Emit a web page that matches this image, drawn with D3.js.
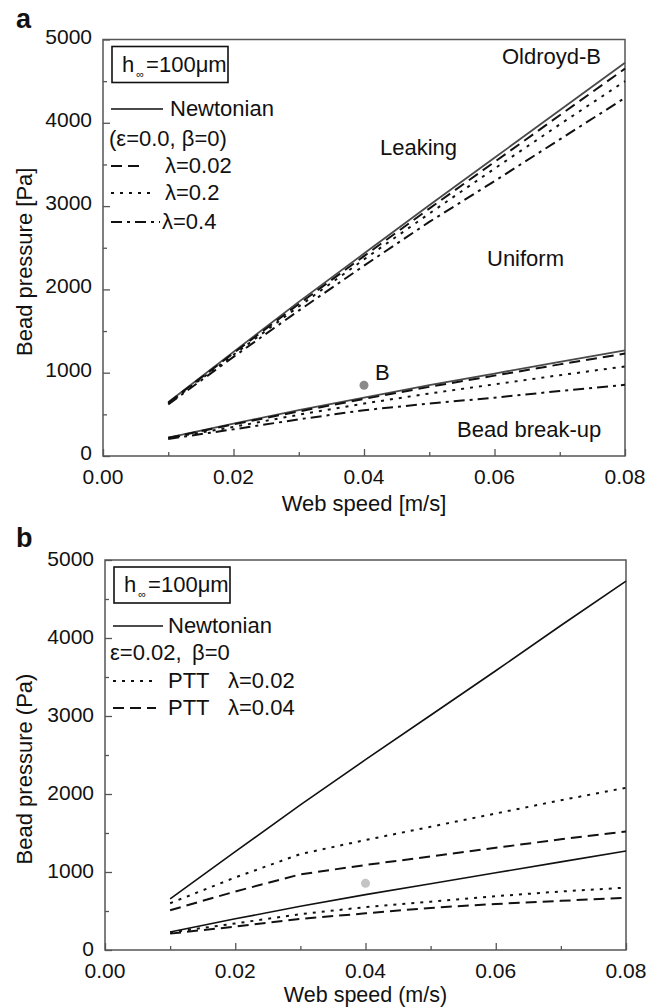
<!DOCTYPE html>
<html>
<head>
<meta charset="utf-8">
<script src="https://cdn.jsdelivr.net/npm/d3@7"></script>
<style>
  html, body { margin: 0; padding: 0; background: #fff; }
  svg { display: block; }
  text { font-family: "Liberation Sans", Arial, sans-serif; fill: #111; white-space: pre; }
</style>
</head>
<body>
<svg id="chart" width="662" height="1007"></svg>
<script>
// ---------- data ----------
const webSpeed = [0.01, 0.02, 0.03, 0.04, 0.05, 0.06, 0.07, 0.08];

// panel a (Oldroyd-B)
const aNewtUpper  = [645, 1250, 1850, 2430, 3010, 3580, 4150, 4720];
const aL002Upper  = [640, 1235, 1825, 2400, 2970, 3530, 4090, 4650];
const aL02Upper   = [630, 1215, 1795, 2360, 2910, 3450, 3980, 4500];
const aL04Upper   = [620, 1190, 1745, 2285, 2810, 3300, 3800, 4300];
const aNewtLower  = [222, 390, 550, 700, 850, 990, 1130, 1268];
const aL002Lower  = [218, 380, 535, 685, 830, 965, 1100, 1230];
const aL02Lower   = [214, 350, 495, 630, 750, 860, 970, 1075];
const aL04Lower   = [205, 320, 440, 550, 630, 700, 780, 855];
const aPointB     = [0.04, 850];

// panel b (PTT)
const bNewtUpper  = [655, 1260, 1860, 2440, 3010, 3580, 4160, 4730];
const bPtt002Upper = [600, 930, 1230, 1410, 1580, 1750, 1920, 2080];
const bPtt004Upper = [510, 750, 970, 1090, 1200, 1310, 1420, 1520];
const bNewtLower  = [230, 400, 560, 710, 850, 990, 1130, 1270];
const bPtt002Lower = [225, 340, 460, 550, 620, 690, 750, 800];
const bPtt004Lower = [210, 300, 400, 470, 540, 590, 630, 670];
const bPoint      = [0.04, 855];

const xTickValues = [0, 0.02, 0.04, 0.06, 0.08];
const xMinorTicks = [0.01, 0.03, 0.05, 0.07];
const yTickValues = [0, 1000, 2000, 3000, 4000, 5000];
const yMinorTicks = [500, 1500, 2500, 3500, 4500];

// ---------- drawing ----------
const svg = d3.select("#chart");
const FS = 22;      // general text
const TFS = 21;     // tick labels

const styles = {
  solidGrey: { stroke: "#4a4a4a", dash: null, w: 1.8 },
  solidBlack: { stroke: "#111", dash: null, w: 1.6 },
  dashed: { stroke: "#111", dash: "11,6", w: 2 },
  dotted: { stroke: "#111", dash: "3,6", w: 2 },
  dashdot: { stroke: "#111", dash: "11,5,3,5", w: 2 }
};

function panel(cfg) {
  const x = d3.scaleLinear().domain([0, 0.08]).range([cfg.left, cfg.right]);
  const y = d3.scaleLinear().domain([0, 5000]).range([cfg.bottom, cfg.top]);
  const g = svg.append("g");

  // ticks (inward)
  const axB = d3.axisBottom(x).tickValues(xTickValues).tickSize(-7).tickFormat("");
  const axBm = d3.axisBottom(x).tickValues(xMinorTicks).tickSize(-4).tickFormat("");
  const axL = d3.axisLeft(y).tickValues(yTickValues).tickSize(-7).tickFormat("");
  const axLm = d3.axisLeft(y).tickValues(yMinorTicks).tickSize(-4).tickFormat("");
  [[axB, `translate(0,${cfg.bottom})`], [axBm, `translate(0,${cfg.bottom})`],
   [axL, `translate(${cfg.left},0)`], [axLm, `translate(${cfg.left},0)`]].forEach(([ax, tr]) => {
    const a = g.append("g").attr("transform", tr).call(ax);
    a.select(".domain").remove();
    a.selectAll("line").attr("stroke", "#555").attr("stroke-width", 1.3);
  });

  // tick labels
  g.selectAll(".xl").data(xTickValues).enter().append("text")
    .attr("x", d => x(d)).attr("y", cfg.bottom + cfg.xLabOff)
    .attr("text-anchor", "middle").attr("font-size", TFS)
    .text(d => d3.format(".2f")(d));
  g.selectAll(".yl").data(yTickValues).enter().append("text")
    .attr("x", cfg.left - 11).attr("y", d => y(d) + cfg.yLabOff)
    .attr("text-anchor", "end").attr("font-size", TFS)
    .text(d => d);

  // frame
  g.append("rect").attr("x", cfg.left).attr("y", cfg.top)
    .attr("width", cfg.right - cfg.left).attr("height", cfg.bottom - cfg.top)
    .attr("fill", "none").attr("stroke", "#555").attr("stroke-width", 1.5);

  // lines
  const line = vals => d3.line().x((d, i) => x(webSpeed[i])).y(d => y(d))(vals);
  cfg.series.forEach(s => {
    const st = styles[s.style];
    g.append("path").attr("d", line(s.values)).attr("fill", "none")
      .attr("stroke", st.stroke).attr("stroke-width", st.w)
      .attr("stroke-dasharray", st.dash);
  });

  // point
  g.append("circle").attr("cx", x(cfg.point[0])).attr("cy", y(cfg.point[1]))
    .attr("r", 4.5).attr("fill", cfg.pointColor);

  // axis titles
  g.append("text").attr("x", (cfg.left + cfg.right) / 2).attr("y", cfg.xTitleY)
    .attr("text-anchor", "middle").attr("font-size", cfg.xTitleFS).text(cfg.xTitle);
  g.append("text").attr("transform", `translate(32,${(cfg.top + cfg.bottom) / 2 + 14}) rotate(-90)`)
    .attr("text-anchor", "middle").attr("font-size", FS).text(cfg.yTitle);

  // panel letter
  g.append("text").attr("x", 16).attr("y", cfg.letterY).attr("font-size", 27)
    .attr("font-weight", "bold").text(cfg.letter);

  // h-inf box
  const bx = cfg.left + 9, by = cfg.top + 7;
  g.append("rect").attr("x", bx).attr("y", by).attr("width", 116).attr("height", 36)
    .attr("fill", "none").attr("stroke", "#111").attr("stroke-width", 1.6);
  const ht = g.append("text").attr("x", bx + 10).attr("y", by + 25).attr("font-size", FS);
  ht.append("tspan").text("h");
  ht.append("tspan").attr("font-size", 11).attr("dx", 2).attr("dy", 6).text("∞");
  ht.append("tspan").attr("dx", 2).attr("dy", -6).text("=100μm");

  // legend
  cfg.legend.forEach(L => {
    if (L.style) {
      const st = styles[L.style];
      g.append("line").attr("x1", cfg.left + 8).attr("x2", cfg.left + 8 + L.len)
        .attr("y1", L.y).attr("y2", L.y).attr("stroke", st.stroke)
        .attr("stroke-width", st.w).attr("stroke-dasharray", st.dash);
    }
    g.append("text").attr("x", L.tx).attr("y", L.y + 7).attr("font-size", FS).text(L.text);
    if (L.text2) {
      g.append("text").attr("x", L.tx2).attr("y", L.y + 7).attr("font-size", FS).text(L.text2);
    }
  });

  // annotations
  (cfg.notes || []).forEach(n => {
    g.append("text").attr("x", n.x).attr("y", n.y).attr("font-size", FS).text(n.t);
  });
  return { x, y };
}

// panel a
panel({
  left: 103, right: 625, top: 39.5, bottom: 456,
  xLabOff: 27.5, yLabOff: 4, xTitleY: 511, xTitleFS: 22, letter: "a", letterY: 28,
  xTitle: "Web speed [m/s]", yTitle: "Bead pressure [Pa]",
  point: aPointB, pointColor: "#8a8a8a",
  series: [
    { values: aNewtUpper, style: "solidGrey" },
    { values: aL002Upper, style: "dashed" },
    { values: aL02Upper, style: "dotted" },
    { values: aL04Upper, style: "dashdot" },
    { values: aNewtLower, style: "solidGrey" },
    { values: aL002Lower, style: "dashed" },
    { values: aL02Lower, style: "dotted" },
    { values: aL04Lower, style: "dashdot" }
  ],
  legend: [
    { style: "solidGrey", len: 52, y: 109, tx: 170, text: "Newtonian" },
    { y: 139, tx: 109, text: "(ε=0.0, β=0)" },
    { style: "dashed", len: 34, y: 166, tx: 165, text: "λ=0.02" },
    { style: "dotted", len: 42, y: 193, tx: 165, text: "λ=0.2" },
    { style: "dashdot", len: 49, y: 222, tx: 162, text: "λ=0.4" }
  ],
  notes: [
    { x: 502, y: 64, t: "Oldroyd-B" },
    { x: 380, y: 155, t: "Leaking" },
    { x: 487, y: 266, t: "Uniform" },
    { x: 375, y: 380, t: "B" },
    { x: 457, y: 437, t: "Bead break-up" }
  ]
});

// panel b
panel({
  left: 105, right: 626, top: 560, bottom: 950,
  xLabOff: 27.5, yLabOff: 6, xTitleY: 1002, xTitleFS: 21.5, letter: "b", letterY: 547,
  xTitle: "Web speed (m/s)", yTitle: "Bead pressure (Pa)",
  point: bPoint, pointColor: "#c4c4c4",
  series: [
    { values: bNewtUpper, style: "solidBlack" },
    { values: bPtt002Upper, style: "dotted" },
    { values: bPtt004Upper, style: "dashed" },
    { values: bNewtLower, style: "solidBlack" },
    { values: bPtt002Lower, style: "dotted" },
    { values: bPtt004Lower, style: "dashed" }
  ],
  legend: [
    { style: "solidBlack", len: 50, y: 626, tx: 168, text: "Newtonian" },
    { y: 653, tx: 110, text: "ε=0.02,", tx2: 192, text2: "β=0" },
    { style: "dotted", len: 45, y: 681, tx: 168, text: "PTT", tx2: 228, text2: "λ=0.02" },
    { style: "dashed", len: 43, y: 708, tx: 168, text: "PTT", tx2: 228, text2: "λ=0.04" }
  ]
});
</script>
</body>
</html>
